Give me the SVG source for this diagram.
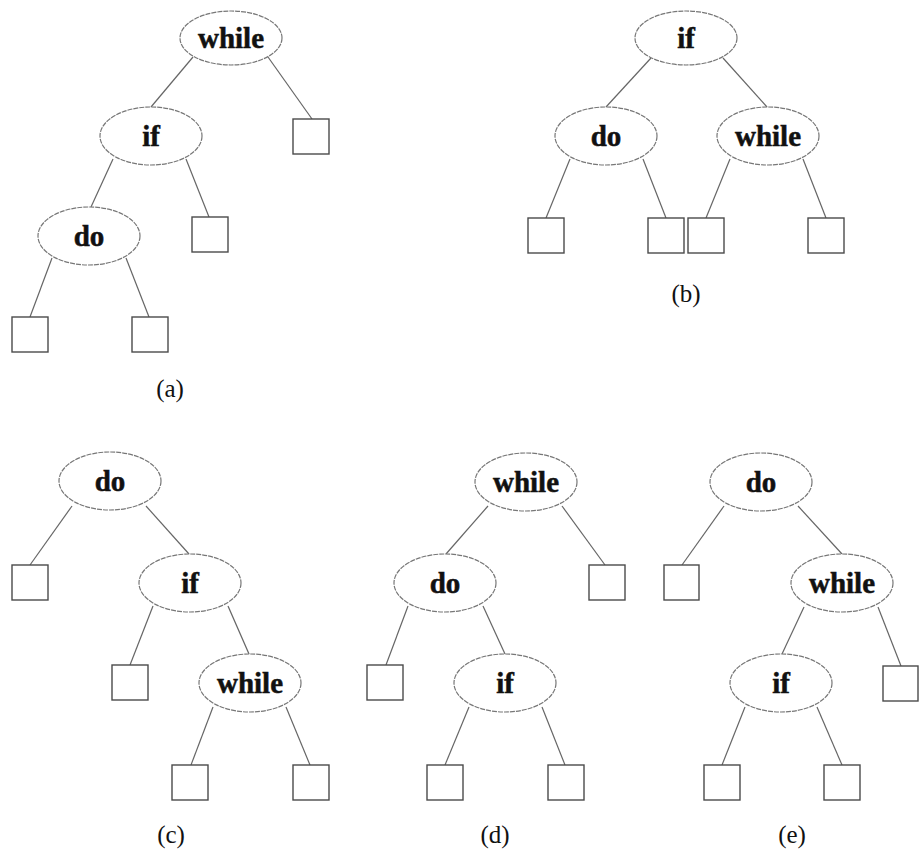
<svg xmlns="http://www.w3.org/2000/svg" width="919" height="853" viewBox="0 0 919 853">
<style>
.n ellipse{fill:#fff;stroke:#777;stroke-width:1.2;stroke-dasharray:5 1}
.n text{font-family:"Liberation Serif","Times New Roman",serif;font-weight:bold;font-size:29px;fill:#111;stroke:#111;stroke-width:0.5;text-anchor:middle}
.lf rect{fill:#fff;stroke:#4a4a4a;stroke-width:1.4}
#edges line{stroke:#666;stroke-width:1.2}
.cap{font-family:"Liberation Serif","Times New Roman",serif;font-size:25px;fill:#111;text-anchor:middle}
</style>
<rect width="919" height="853" fill="#fff"/>
<g id="edges">
<line x1="193" y1="57" x2="151" y2="107"/>
<line x1="268" y1="57" x2="312" y2="119"/>
<line x1="113" y1="159" x2="91" y2="207"/>
<line x1="186" y1="159" x2="209" y2="217"/>
<line x1="52" y1="258" x2="30" y2="317"/>
<line x1="126" y1="258" x2="149" y2="317"/>
<line x1="651" y1="58" x2="606" y2="107"/>
<line x1="723" y1="58" x2="767" y2="107"/>
<line x1="570" y1="159" x2="546" y2="218"/>
<line x1="643" y1="159" x2="666" y2="218"/>
<line x1="730" y1="159" x2="706" y2="218"/>
<line x1="803" y1="159" x2="826" y2="218"/>
<line x1="72" y1="506" x2="30" y2="565"/>
<line x1="146" y1="506" x2="189" y2="554"/>
<line x1="153" y1="606" x2="130" y2="665"/>
<line x1="228" y1="606" x2="249" y2="654"/>
<line x1="213" y1="707" x2="191" y2="765"/>
<line x1="286" y1="707" x2="310" y2="765"/>
<line x1="488" y1="506" x2="446" y2="554"/>
<line x1="562" y1="506" x2="605" y2="565"/>
<line x1="408" y1="606" x2="386" y2="665"/>
<line x1="483" y1="606" x2="505" y2="654"/>
<line x1="469" y1="707" x2="445" y2="765"/>
<line x1="542" y1="707" x2="565" y2="765"/>
<line x1="724" y1="506" x2="682" y2="565"/>
<line x1="798" y1="506" x2="842" y2="554"/>
<line x1="804" y1="607" x2="782" y2="654"/>
<line x1="878" y1="607" x2="901" y2="666"/>
<line x1="745" y1="707" x2="722" y2="765"/>
<line x1="817" y1="707" x2="842" y2="765"/>
</g>
<!-- tree a -->
<g id="a-while" class="n"><ellipse cx="231" cy="38" rx="51" ry="27"/><text x="231" y="48">while</text></g>
<g id="a-if" class="n"><ellipse cx="151" cy="136" rx="51" ry="29"/><text x="151" y="146">if</text></g>
<g id="a-do" class="n"><ellipse cx="89" cy="236" rx="51" ry="29"/><text x="89" y="246">do</text></g>
<g id="a-leaf1" class="lf"><rect x="293" y="119" width="36" height="35"/></g>
<g id="a-leaf2" class="lf"><rect x="192" y="217" width="36" height="35"/></g>
<g id="a-leaf3" class="lf"><rect x="12" y="317" width="36" height="35"/></g>
<g id="a-leaf4" class="lf"><rect x="132" y="317" width="36" height="35"/></g>
<text class="cap" x="170" y="397">(a)</text>
<!-- tree b -->
<g id="b-if" class="n"><ellipse cx="686" cy="38" rx="51" ry="27"/><text x="686" y="48">if</text></g>
<g id="b-do" class="n"><ellipse cx="606" cy="136" rx="51" ry="29"/><text x="606" y="146">do</text></g>
<g id="b-while" class="n"><ellipse cx="768" cy="136" rx="51" ry="29"/><text x="768" y="146">while</text></g>
<g id="b-leaf1" class="lf"><rect x="528" y="218" width="36" height="35"/></g>
<g id="b-leaf2" class="lf"><rect x="648" y="218" width="36" height="35"/></g>
<g id="b-leaf3" class="lf"><rect x="688" y="218" width="36" height="35"/></g>
<g id="b-leaf4" class="lf"><rect x="808" y="218" width="36" height="35"/></g>
<text class="cap" x="686" y="302">(b)</text>
<!-- tree c -->
<g id="c-do" class="n"><ellipse cx="110" cy="481" rx="51" ry="29"/><text x="110" y="491">do</text></g>
<g id="c-if" class="n"><ellipse cx="190" cy="583" rx="51" ry="29"/><text x="190" y="593">if</text></g>
<g id="c-while" class="n"><ellipse cx="250" cy="683" rx="51" ry="29"/><text x="250" y="693">while</text></g>
<g id="c-leaf1" class="lf"><rect x="12" y="565" width="36" height="35"/></g>
<g id="c-leaf2" class="lf"><rect x="112" y="665" width="36" height="35"/></g>
<g id="c-leaf3" class="lf"><rect x="172" y="765" width="36" height="35"/></g>
<g id="c-leaf4" class="lf"><rect x="293" y="765" width="36" height="35"/></g>
<text class="cap" x="171" y="843">(c)</text>
<!-- tree d -->
<g id="d-while" class="n"><ellipse cx="526" cy="482" rx="51" ry="29"/><text x="526" y="492">while</text></g>
<g id="d-do" class="n"><ellipse cx="445" cy="583" rx="51" ry="29"/><text x="445" y="593">do</text></g>
<g id="d-if" class="n"><ellipse cx="505" cy="683" rx="51" ry="29"/><text x="505" y="693">if</text></g>
<g id="d-leaf1" class="lf"><rect x="589" y="565" width="36" height="35"/></g>
<g id="d-leaf2" class="lf"><rect x="367" y="665" width="36" height="35"/></g>
<g id="d-leaf3" class="lf"><rect x="427" y="765" width="36" height="35"/></g>
<g id="d-leaf4" class="lf"><rect x="548" y="765" width="36" height="35"/></g>
<text class="cap" x="495" y="843">(d)</text>
<!-- tree e -->
<g id="e-do" class="n"><ellipse cx="761" cy="482" rx="51" ry="29"/><text x="761" y="492">do</text></g>
<g id="e-while" class="n"><ellipse cx="842" cy="583" rx="51" ry="29"/><text x="842" y="593">while</text></g>
<g id="e-if" class="n"><ellipse cx="781" cy="683" rx="51" ry="29"/><text x="781" y="693">if</text></g>
<g id="e-leaf1" class="lf"><rect x="664" y="565" width="35" height="35"/></g>
<g id="e-leaf2" class="lf"><rect x="883" y="666" width="35" height="35"/></g>
<g id="e-leaf3" class="lf"><rect x="704" y="765" width="36" height="35"/></g>
<g id="e-leaf4" class="lf"><rect x="824" y="765" width="36" height="35"/></g>
<text class="cap" x="792" y="843">(e)</text>
</svg>
